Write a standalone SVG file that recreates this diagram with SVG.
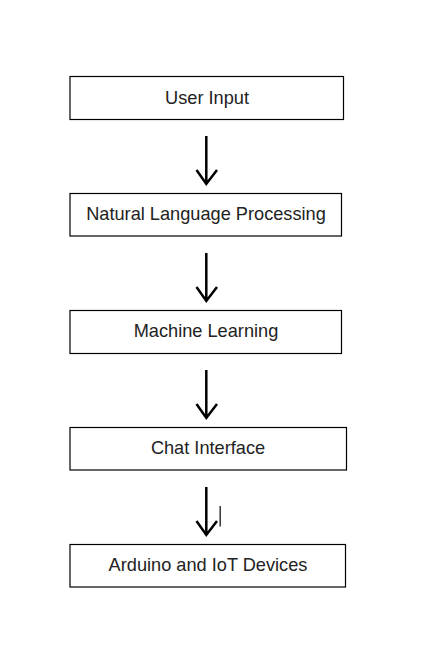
<svg xmlns="http://www.w3.org/2000/svg" width="423" height="651" viewBox="0 0 423 651">
<style>
.box{fill:#fff;stroke:#000;stroke-width:1.2}
.lbl{font-family:"Liberation Sans",Arial,sans-serif;font-size:18.2px;fill:#222;text-anchor:middle}
.arr{fill:none;stroke:#000;stroke-width:2.5;stroke-linejoin:miter}
</style>
<rect width="423" height="651" fill="#fff"/>
<g id="user-input"><rect class="box" x="70" y="76.5" width="273.5" height="43"/><text class="lbl" x="207" y="103.5">User Input</text></g>
<g id="nlp"><rect class="box" x="70" y="193.5" width="271.5" height="42.5"/><text class="lbl" x="206" y="220">Natural Language Processing</text></g>
<g id="ml"><rect class="box" x="70" y="310.5" width="271.5" height="43"/><text class="lbl" x="206" y="337">Machine Learning</text></g>
<g id="chat"><rect class="box" x="70" y="427.5" width="276.5" height="42.5"/><text class="lbl" x="208" y="454">Chat Interface</text></g>
<g id="arduino"><rect class="box" x="70" y="544.5" width="275.5" height="42.5"/><text class="lbl" x="208" y="571">Arduino and IoT Devices</text></g>
<g id="connectors">
<path class="arr" d="M206.3 136V183M196.5 170L206.3 184L217 170"/>
<path class="arr" d="M206.3 253V300M196.5 287L206.3 301L217 287"/>
<path class="arr" d="M206.3 370V417M196.5 404L206.3 418L217 404"/>
<path class="arr" d="M206.3 487V534M196.5 521L206.3 535L217 521"/>
</g>
<line x1="220.2" y1="506" x2="220.2" y2="526.5" stroke="#333" stroke-width="1.5"/>
</svg>
